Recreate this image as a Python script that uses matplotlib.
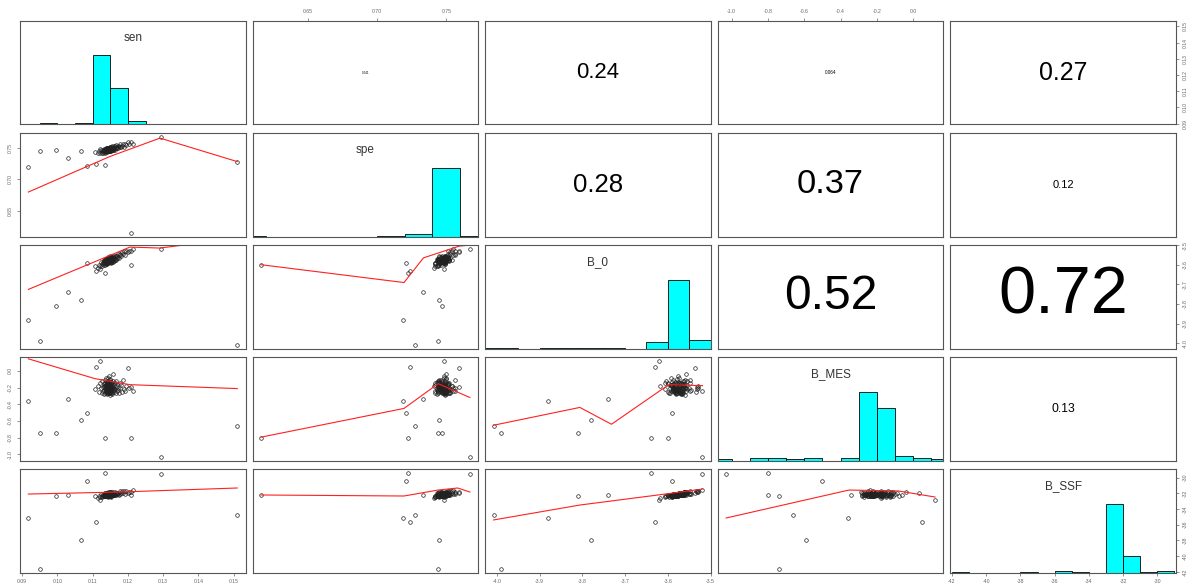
import numpy as np
import matplotlib
matplotlib.use("Agg")
import matplotlib.pyplot as plt

plt.rcParams['font.family'] = ['Liberation Sans', 'DejaVu Sans']

labels = ["sen", "spe", "B_0", "B_MES", "B_SSF"]

# scattered cases first, then the dense cluster
sen = [0.0918, 0.0951, 0.0997, 0.1030, 0.1066, 0.1120, 0.1134, 0.1210, 0.1294, 0.1510, 0.1111, 0.1083,
       0.1108, 0.1115, 0.1119, 0.1122, 0.1124, 0.1126, 0.1127, 0.1129, 0.1130, 0.1131,
       0.1132, 0.1133, 0.1133, 0.1134, 0.1135, 0.1135, 0.1136, 0.1136, 0.1137, 0.1137,
       0.1138, 0.1138, 0.1139, 0.1139, 0.1140, 0.1140, 0.1140, 0.1141, 0.1141, 0.1141,
       0.1142, 0.1142, 0.1142, 0.1143, 0.1143, 0.1143, 0.1144, 0.1144, 0.1144, 0.1144,
       0.1145, 0.1145, 0.1145, 0.1145, 0.1146, 0.1146, 0.1146, 0.1146, 0.1147, 0.1147,
       0.1147, 0.1147, 0.1148, 0.1148, 0.1148, 0.1148, 0.1148, 0.1149, 0.1149, 0.1149,
       0.1149, 0.1149, 0.1150, 0.1150, 0.1150, 0.1150, 0.1139, 0.1143, 0.1146, 0.1141,
       0.1136, 0.1147, 0.1144, 0.1149,
       0.1151, 0.1151, 0.1152, 0.1152, 0.1153, 0.1153, 0.1154, 0.1154, 0.1155, 0.1155,
       0.1156, 0.1156, 0.1157, 0.1157, 0.1158, 0.1158, 0.1159, 0.1160, 0.1160, 0.1161,
       0.1162, 0.1163, 0.1164, 0.1165, 0.1166, 0.1167, 0.1168, 0.1170, 0.1171, 0.1173,
       0.1175, 0.1177, 0.1179, 0.1181, 0.1184, 0.1187, 0.1190, 0.1193, 0.1196, 0.1199,
       0.1153, 0.1203, 0.1208, 0.1215]
spe = [0.719, 0.744, 0.747, 0.733, 0.745, 0.748, 0.722, 0.616, 0.767, 0.727, 0.724, 0.721,
       0.743, 0.741, 0.744, 0.742, 0.747, 0.742, 0.744, 0.746, 0.742, 0.746,
       0.744, 0.748, 0.743, 0.745, 0.747, 0.742, 0.747, 0.745, 0.749, 0.744,
       0.746, 0.748, 0.743, 0.747, 0.745, 0.749, 0.744, 0.746, 0.748, 0.743,
       0.748, 0.746, 0.750, 0.745, 0.747, 0.749, 0.744, 0.748, 0.746, 0.750,
       0.745, 0.747, 0.749, 0.744, 0.748, 0.746, 0.750, 0.745, 0.747, 0.749,
       0.744, 0.748, 0.746, 0.751, 0.746, 0.748, 0.750, 0.745, 0.749, 0.747,
       0.751, 0.746, 0.748, 0.750, 0.745, 0.749, 0.745, 0.750, 0.745, 0.746,
       0.748, 0.744, 0.748, 0.747,
       0.750, 0.745, 0.749, 0.747, 0.751, 0.746, 0.748, 0.750, 0.746, 0.750,
       0.748, 0.752, 0.747, 0.749, 0.751, 0.746, 0.750, 0.748, 0.752, 0.748,
       0.750, 0.752, 0.747, 0.751, 0.749, 0.754, 0.749, 0.751, 0.753, 0.749,
       0.753, 0.751, 0.755, 0.751, 0.753, 0.756, 0.751, 0.756, 0.754, 0.759,
       0.746, 0.756, 0.759, 0.755]
b_0 = [-3.88, -3.99, -3.81, -3.74, -3.78, -3.62, -3.64, -3.60, -3.52, -4.008, -3.63, -3.59,
       -3.606, -3.619, -3.599, -3.606, -3.584, -3.598, -3.605, -3.587, -3.592, -3.599,
       -3.578, -3.593, -3.581, -3.600, -3.583, -3.593, -3.572, -3.588, -3.595, -3.579,
       -3.584, -3.592, -3.571, -3.587, -3.574, -3.594, -3.578, -3.587, -3.567, -3.583,
       -3.590, -3.574, -3.580, -3.587, -3.567, -3.583, -3.570, -3.590, -3.574, -3.584,
       -3.563, -3.579, -3.587, -3.571, -3.576, -3.584, -3.564, -3.580, -3.567, -3.587,
       -3.571, -3.581, -3.560, -3.576, -3.584, -3.568, -3.574, -3.581, -3.561, -3.577,
       -3.565, -3.585, -3.568, -3.578, -3.558, -3.574, -3.593, -3.573, -3.576, -3.589,
       -3.574, -3.579, -3.570, -3.585,
       -3.571, -3.591, -3.574, -3.584, -3.563, -3.579, -3.586, -3.570, -3.575, -3.583,
       -3.562, -3.578, -3.565, -3.585, -3.568, -3.578, -3.557, -3.572, -3.580, -3.563,
       -3.568, -3.575, -3.554, -3.569, -3.556, -3.575, -3.558, -3.566, -3.545, -3.559,
       -3.565, -3.547, -3.551, -3.557, -3.534, -3.547, -3.532, -3.549, -3.530, -3.537,
       -3.563, -3.529, -3.532, -3.519]
b_mes = [-0.36, -0.74, -0.74, -0.34, -0.59, 0.12, -0.80, -0.80, -1.03, -0.66, 0.05, -0.50,
         -0.22, -0.18, -0.25, -0.15, -0.21, -0.27, -0.12, -0.19, -0.24, -0.16, -0.23, -0.18,
         -0.28, -0.14, -0.22, -0.17, -0.26, -0.11, -0.21, -0.24, -0.18, -0.08, -0.23,
         -0.23, -0.17, -0.26, -0.14, -0.22, -0.28, -0.13, -0.18, -0.25, -0.15, -0.22, -0.21,
         -0.27, -0.15, -0.17, -0.18, -0.25, -0.12, -0.22, -0.23, -0.19, -0.06, -0.24,
         -0.21, -0.19, -0.24, -0.16, -0.18, -0.26, -0.11, -0.20, -0.23, -0.17, -0.24, -0.19,
         -0.29, -0.13, -0.23, -0.16, -0.27, -0.10, -0.20, -0.25, -0.17, -0.09, -0.22,
         -0.24, -0.18, -0.26, -0.14, -0.21, -0.27, -0.13, -0.19, -0.25, -0.16, -0.22, -0.20,
         -0.28, -0.15, -0.22, -0.18, -0.26, -0.12, -0.21, -0.23, -0.19, -0.04, -0.23,
         -0.22, -0.17, -0.25, -0.15, -0.22, -0.26, -0.12, -0.18, -0.24, -0.16, -0.23, -0.21,
         -0.27, -0.14, -0.21, -0.17, -0.25, -0.11, -0.22, -0.24, -0.18, 0.03, -0.22,
         -0.21, -0.19, -0.24]
b_ssf = [-35.1, -41.6, -32.3, -32.2, -37.9, -32.8, -29.4, -32.2, -29.5, -34.8, -35.6, -30.4,
         -32.31, -32.66, -32.30, -32.49, -32.05, -32.46, -32.40, -32.12, -32.35, -32.25,
         -32.33, -32.25, -32.29, -32.18, -32.34, -32.30, -32.00, -32.31, -32.22, -32.34,
         -32.18, -32.38, -31.95, -32.38, -32.15, -32.17, -32.23, -32.16, -32.25, -32.17,
         -32.36, -31.97, -32.32, -32.26, -31.96, -32.27, -32.02, -32.43, -32.10, -32.31,
         -31.88, -32.31, -32.26, -31.99, -32.22, -32.13, -32.22, -32.15, -32.18, -32.08,
         -32.25, -32.21, -31.90, -32.22, -32.13, -32.25, -32.10, -32.29, -31.87, -32.30,
         -32.08, -32.10, -32.15, -32.08, -32.17, -32.10, -32.38, -31.96, -32.29, -32.27,
         -32.01, -32.24, -32.02, -32.39,
         -32.03, -32.44, -32.10, -32.31, -31.88, -32.31, -32.25, -31.98, -32.21, -32.12,
         -32.21, -32.13, -32.16, -32.06, -32.22, -32.18, -31.88, -32.19, -32.10, -32.21,
         -32.05, -32.24, -31.81, -32.23, -32.01, -32.02, -32.07, -31.99, -32.07, -31.98,
         -32.16, -31.76, -32.09, -32.02, -31.69, -31.99, -31.72, -32.10, -31.75, -31.94,
         -31.88, -31.79, -31.82, -31.57]

# red smoother curves of the lower panels (x values, y values)
smooth_x = {
    (1, 0): [0.0918, 0.1149, 0.1291, 0.1510],
    (2, 0): [0.0918, 0.1206, 0.1291, 0.1510],
    (3, 0): [0.0918, 0.1107, 0.1206, 0.1510],
    (4, 0): [0.0918, 0.1180, 0.1510],
    (2, 1): [0.616, 0.7194, 0.7335, 0.7594, 0.767],
    (3, 1): [0.616, 0.7194, 0.7441, 0.767],
    (4, 1): [0.616, 0.7194, 0.7441, 0.7582, 0.767],
    (3, 2): [-4.008, -3.806, -3.732, -3.598, -3.519],
    (4, 2): [-4.008, -3.806, -3.606, -3.519],
    (4, 3): [-1.03, -0.354, -0.081, 0.12],
}
smooth_y = {
    (1, 0): [0.680, 0.736, 0.765, 0.728],
    (2, 0): [-3.726, -3.510, -3.515, -3.465],
    (3, 0): [0.144, -0.094, -0.166, -0.213],
    (4, 0): [-32.10, -31.84, -31.33],
    (2, 1): [-3.600, -3.691, -3.565, -3.505, -3.500],
    (3, 1): [-0.796, -0.451, -0.154, -0.320],
    (4, 1): [-32.22, -32.35, -31.59, -31.33, -31.84],
    (3, 2): [-0.653, -0.439, -0.641, -0.166, -0.178],
    (4, 2): [-35.40, -33.50, -32.10, -31.46],
    (4, 3): [-35.15, -31.59, -31.71, -32.48],
}

ticks = [[0.09, 0.10, 0.11, 0.12, 0.13, 0.14, 0.15],
         [0.65, 0.70, 0.75],
         [-4.0, -3.9, -3.8, -3.7, -3.6, -3.5],
         [-1.0, -0.8, -0.6, -0.4, -0.2, 0.0],
         [-42, -40, -38, -36, -34, -32, -30]]
tick_text = [["0.09", "0.10", "0.11", "0.12", "0.13", "0.14", "0.15"],
             ["0.65", "0.70", "0.75"],
             ["-4.0", "-3.9", "-3.8", "-3.7", "-3.6", "-3.5"],
             ["-1.0", "-0.8", "-0.6", "-0.4", "-0.2", "0.0"],
             ["-42", "-40", "-38", "-36", "-34", "-32", "-30"]]

# |r| printed in the upper panels
cor_cells = [(0, 1), (0, 2), (0, 3), (0, 4), (1, 2), (1, 3), (1, 4), (2, 3), (2, 4), (3, 4)]
cor_vals = [0.041, 0.24, 0.064, 0.27, 0.28, 0.37, 0.12, 0.52, 0.72, 0.13]
cor_text = ["0.041", "0.24", "0.064", "0.27", "0.28", "0.37", "0.12", "0.52", "0.72", "0.13"]

data = [np.array(v, float) for v in (sen, spe, b_0, b_mes, b_ssf)]


def r_pretty(lo, up, ndiv, h=1.5):
    h5 = 0.5 + 1.5 * h
    cell = (up - lo) / ndiv
    U = 10 ** np.floor(np.log10(cell))
    unit = U
    if 2 * U - cell < h * (cell - unit):
        unit = 2 * U
        if 5 * U - cell < h5 * (cell - unit):
            unit = 5 * U
            if 10 * U - cell < h * (cell - unit):
                unit = 10 * U
    ns = np.floor(lo / unit + 1e-7)
    nu = np.ceil(up / unit - 1e-7)
    while ns * unit > lo + 1e-7 * unit:
        ns -= 1
    while nu * unit < up - 1e-7 * unit:
        nu += 1
    return np.arange(ns, nu + 1) * unit


def r_hist(x):
    nclass = int(np.ceil(np.log2(len(x)) + 1))
    br = r_pretty(x.min(), x.max(), nclass)
    cnt = np.zeros(len(br) - 1)
    for v in x:
        k = np.searchsorted(br, v - 1e-9, side="left") - 1
        k = min(max(k, 0), len(cnt) - 1)
        cnt[k] += 1
    return br, cnt


W, H = 1192, 584
fig = plt.figure(figsize=(W / 100, H / 100), dpi=100)
col_x = [20.0, 252.6, 485.2, 717.8, 950.4]
col_w = 225.6
row_y = [21.0, 133.0, 245.0, 357.0, 469.0]
row_h = 103.5
frame_col = "#555555"
tick_col = "#666666"

lims = []
for v in data:
    lo, hi = v.min(), v.max()
    pad = 0.04 * (hi - lo)
    lims.append((lo - pad, hi + pad))

axes = {}
for i in range(5):
    for j in range(5):
        ax = fig.add_axes([col_x[j] / W, 1 - (row_y[i] + row_h) / H, col_w / W, row_h / H])
        axes[(i, j)] = ax
        ax.set_xlim(*lims[j])
        ax.set_ylim(*lims[i])
        for s in ax.spines.values():
            s.set_color(frame_col)
            s.set_linewidth(0.8)
        ax.tick_params(axis="both", which="both", length=2.5, width=0.5, color=tick_col,
                       labelsize=3.7, labelcolor=tick_col, pad=2.5,
                       bottom=False, top=False, left=False, right=False,
                       labelbottom=False, labeltop=False, labelleft=False, labelright=False)
        ax.set_xticks(ticks[j])
        ax.set_xticklabels(tick_text[j])
        ax.set_yticks(ticks[i])
        ax.set_yticklabels(tick_text[i], rotation=90, va="center")
        if i == 0 and j % 2 == 1:
            ax.tick_params(axis="x", top=True, labeltop=True)
        if i == 4 and j % 2 == 0:
            ax.tick_params(axis="x", bottom=True, labelbottom=True)
        if j == 0 and i % 2 == 1:
            ax.tick_params(axis="y", left=True, labelleft=True)
        if j == 4 and i % 2 == 0:
            ax.tick_params(axis="y", right=True, labelright=True)

        if i == j:
            br, cnt = r_hist(data[i])
            ylo, yhi = lims[i]
            hh = cnt / cnt.max() / 1.5 * (yhi - ylo)
            ax.bar(br[:-1], hh, width=np.diff(br), bottom=ylo, align="edge",
                   color="#00FFFF", edgecolor="black", linewidth=0.6)
            ax.text(0.5, 0.833, labels[i], transform=ax.transAxes, ha="center",
                    va="center", fontsize=8.5, color="#333333")
        elif i > j:
            ax.plot(data[j], data[i], linestyle="none", marker="o", markersize=2.6,
                    markerfacecolor="none", markeredgecolor="#222222", markeredgewidth=0.5)
            ax.plot(smooth_x[(i, j)], smooth_y[(i, j)], color="#FF2020", linewidth=0.8)

fig.canvas.draw()
renderer = fig.canvas.get_renderer()
for (i, j), r, txt in zip(cor_cells, cor_vals, cor_text):
    ax = axes[(i, j)]
    t = ax.text(0.5, 0.5, txt, transform=ax.transAxes, ha="center", va="center",
                fontsize=10, color="black")
    wpx = t.get_window_extent(renderer).width
    target = 0.8 * r * col_w
    t.set_fontsize(10 * target / wpx)

fig.savefig("out.png", dpi=100)
